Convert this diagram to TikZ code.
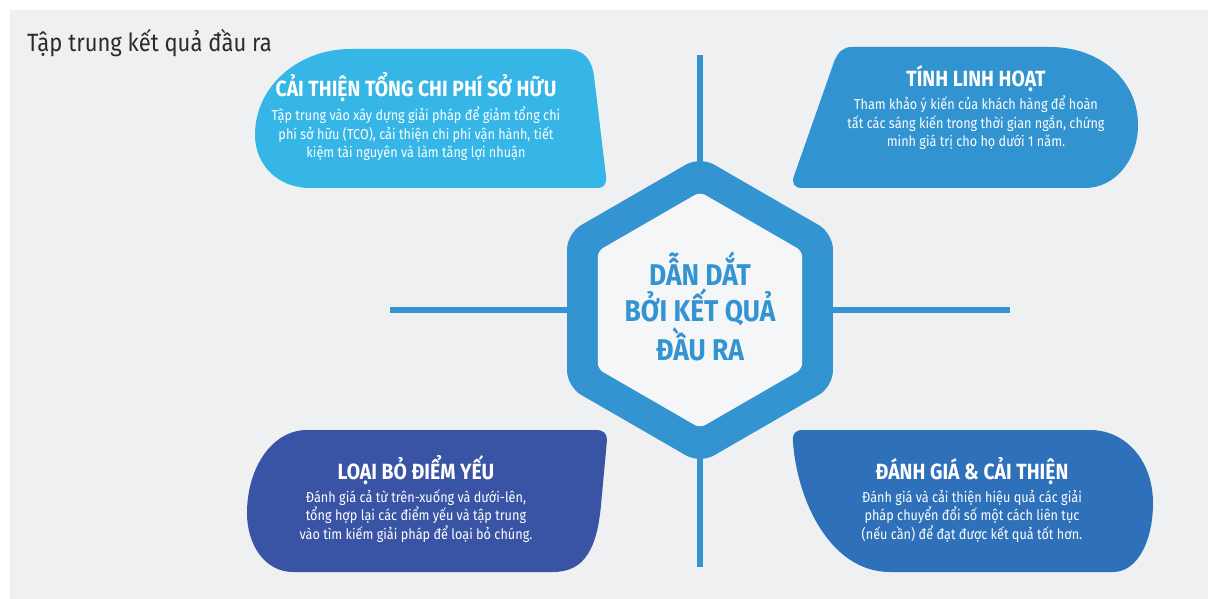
\documentclass[tikz,border=0pt]{standalone}
\usepackage{fontspec}
\setmainfont{Fira Sans}[FakeStretch=0.88]
\usetikzlibrary{positioning}

\tikzset{
  head/.style={font=\bfseries\fontsize{22}{24}\selectfont, text=white, anchor=base, inner sep=0pt},
  body/.style={font=\fontsize{14.4}{18.5}\selectfont, text=white, align=center, anchor=base, inner sep=0pt},
  spoke/.style={line width=6pt, draw=hexblue},
}

\begin{document}
\begin{tikzpicture}[x=1pt,y=-1pt]

\definecolor{paper}{HTML}{EFF0F2}
\definecolor{sky}{HTML}{36B6E7}
\definecolor{mid}{HTML}{3193D0}
\definecolor{navy}{HTML}{3A54A5}
\definecolor{deep}{HTML}{2E71BA}
\definecolor{hexblue}{HTML}{3394D1}
\definecolor{hexfill}{HTML}{F5F6F8}
\definecolor{ink}{HTML}{2B2B2B}

\useasboundingbox (0,0) rectangle (1208,599);
\fill[paper] (10,10) rectangle (1208,599);

\node[anchor=base west, inner sep=0pt, text=ink, font=\fontsize{25}{28}\selectfont] (title) at (27,52) {Tập trung kết quả đầu ra};

% the four leaves
\fill[sky] (350,49) -- (566,49) .. controls (584,49) and (592,60) .. (594,76) -- (606,176)
  .. controls (607,184) and (604,188) .. (597,188) -- (310,188)
  .. controls (278,188) and (255,165) .. (255,135) .. controls (255,85) and (300,49) .. (350,49) -- cycle;
\fill[mid] (1050,47) -- (852,47) .. controls (843,47) and (838,52) .. (834,62) -- (794,176)
  .. controls (791,184) and (795,188) .. (802,188) -- (1085,188)
  .. controls (1115,188) and (1138,160) .. (1138,125) .. controls (1138,80) and (1100,47) .. (1050,47) -- cycle;
\fill[navy] (307,430) -- (596,430) .. controls (604,430) and (607,434) .. (607,440) -- (601,505)
  .. controls (597,548) and (585,572) .. (553,572) -- (293,572)
  .. controls (265,572) and (247,545) .. (247,513) .. controls (247,468) and (272,430) .. (307,430) -- cycle;
\fill[deep] (1090,430) -- (803,430) .. controls (795,430) and (792,434) .. (793,442)
  .. controls (797,500) and (830,572) .. (890,572) -- (1113,572)
  .. controls (1138,572) and (1153,540) .. (1153,503) .. controls (1153,460) and (1125,430) .. (1090,430) -- cycle;

% spokes
\coordinate (hexN) at (700,200); \coordinate (hexS) at (700,420);
\coordinate (hexW) at (600,310); \coordinate (hexE) at (800,310);
\coordinate (tipN) at (700,55);  \coordinate (tipS) at (700,567);
\coordinate (tipW) at (390,310); \coordinate (tipE) at (1010,310);
\draw[spoke] (hexN) -- (tipN);
\draw[spoke] (hexS) -- (tipS);
\draw[spoke] (hexW) -- (tipW);
\draw[spoke] (hexE) -- (tipE);

% hexagon
\def\R{153.5}; \def\r{118};
\fill[hexblue, rounded corners=16pt] (700,310-\R) -- (700+0.866*\R,310-\R/2) -- (700+0.866*\R,310+\R/2)
  -- (700,310+\R) -- (700-0.866*\R,310+\R/2) -- (700-0.866*\R,310-\R/2) -- cycle;
\fill[hexfill, rounded corners=6pt] (700,310-\r) -- (700+0.866*\r,310-\r/2) -- (700+0.866*\r,310+\r/2)
  -- (700,310+\r) -- (700-0.866*\r,310+\r/2) -- (700-0.866*\r,310-\r/2) -- cycle;

\node[anchor=base, align=center, inner sep=0pt, text=hexblue, font=\bfseries\fontsize{30}{36}\selectfont] (core) at (700,360)
  {DẪN DẮT\\BỞI KẾT QUẢ\\ĐẦU RA};

% texts
\node[head] (tco) at (416,97) {CẢI THIỆN TỔNG CHI PHÍ SỞ HỮU};
\node[body] (tcoText) at (416,158) {Tập trung vào xây dựng giải pháp để giảm tổng chi\\phí sở hữu (TCO), cải thiện chi phí vận hành, tiết\\kiệm tài nguyên và làm tăng lợi nhuận};

\node[head] (agile) at (976,87) {TÍNH LINH HOẠT};
\node[body] (agileText) at (976,147) {Tham khảo ý kiến của khách hàng để hoàn\\tất các sáng kiến trong thời gian ngắn, chứng\\minh giá trị cho họ dưới 1 năm.};

\node[head] (weak) at (416,479) {LOẠI BỎ ĐIỂM YẾU};
\node[body] (weakText) at (416,539) {Đánh giá cả từ trên-xuống và dưới-lên,\\tổng hợp lại các điểm yếu và tập trung\\vào tìm kiếm giải pháp để loại bỏ chúng.};

\node[head] (review) at (972,479) {ĐÁNH GIÁ \& CẢI THIỆN};
\node[body] (reviewText) at (972,539) {Đánh giá và cải thiện hiệu quả các giải\\pháp chuyển đổi số một cách liên tục\\(nếu cần) để đạt được kết quả tốt hơn.};

\end{tikzpicture}
\end{document}
